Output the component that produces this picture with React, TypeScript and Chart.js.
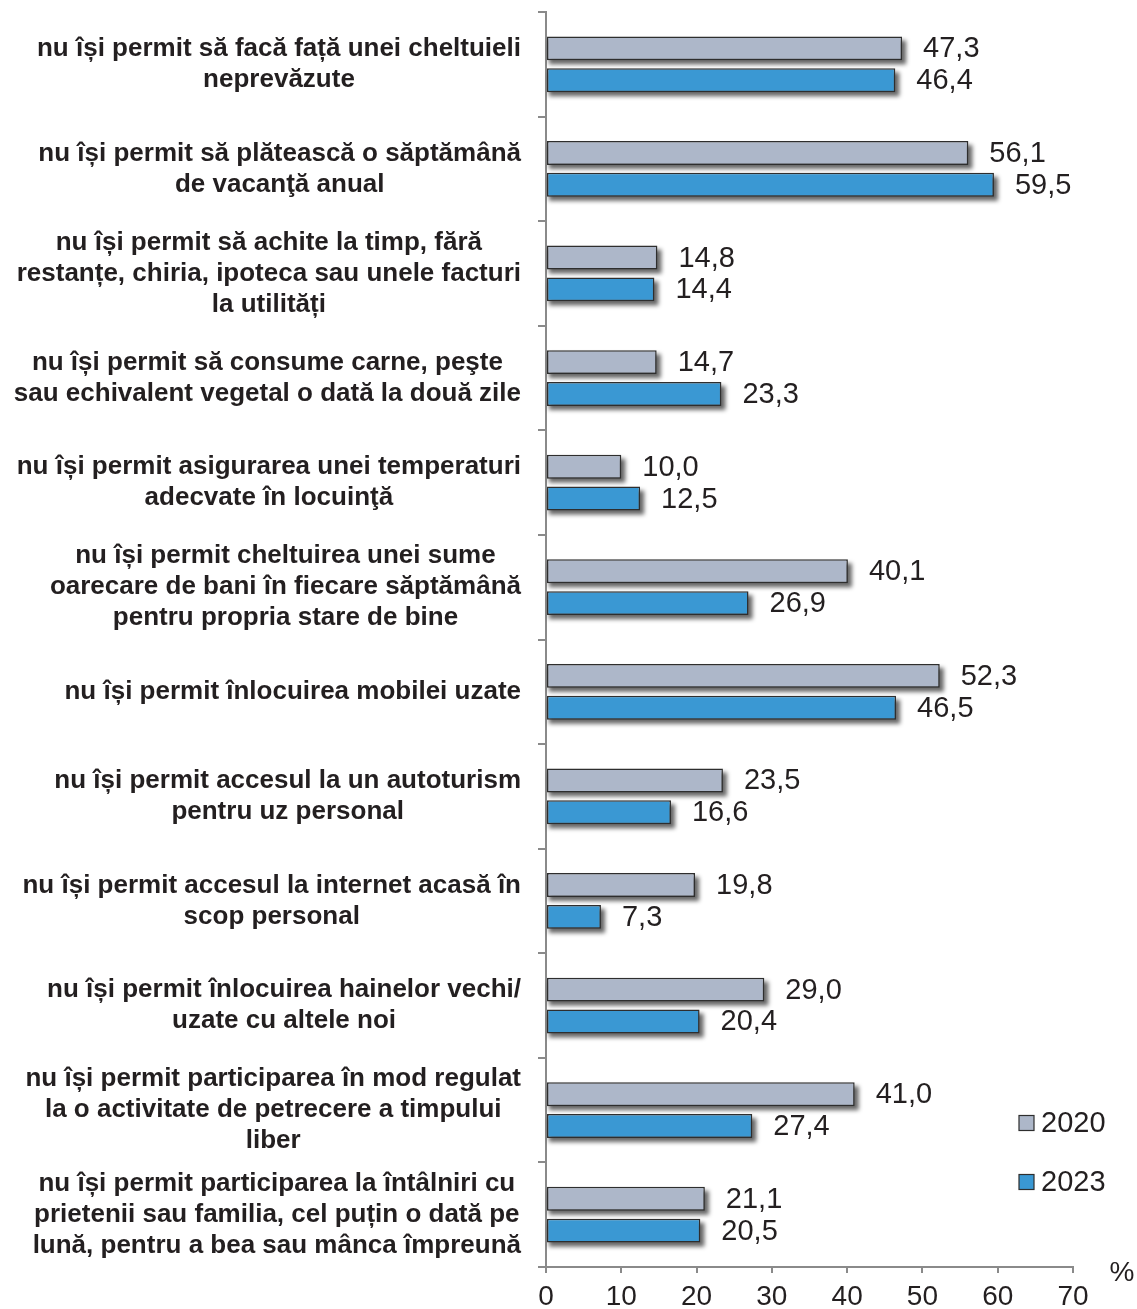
import React, { useEffect, useRef } from "react";
import { Chart, registerables } from "chart.js";

Chart.register(...registerables);

const categories: string[][] = [
  ["nu își permit să facă față unei cheltuieli", "neprevăzute"],
  ["nu își permit să plătească o săptămână", "de vacanţă anual"],
  ["nu își permit să achite la timp, fără", "restanțe, chiria, ipoteca sau unele facturi", "la utilități"],
  ["nu își permit să consume carne, peşte", "sau echivalent vegetal o dată la două zile"],
  ["nu își permit asigurarea unei temperaturi", "adecvate în locuinţă"],
  ["nu își permit cheltuirea unei sume", "oarecare de bani în fiecare săptămână", "pentru propria stare de bine"],
  ["nu își permit înlocuirea mobilei uzate"],
  ["nu își permit accesul la un autoturism", "pentru uz personal"],
  ["nu își permit accesul la internet acasă în", "scop personal"],
  ["nu își permit înlocuirea hainelor vechi/", "uzate cu altele noi"],
  ["nu își permit participarea în mod regulat", "la o activitate de petrecere a timpului", "liber"],
  ["nu își permit participarea la întâlniri cu", "prietenii sau familia, cel puțin o dată pe", "lună, pentru a bea sau mânca împreună"],
];

const values2020: number[] = [47.3, 56.1, 14.8, 14.7, 10.0, 40.1, 52.3, 23.5, 19.8, 29.0, 41.0, 21.1];
const values2023: number[] = [46.4, 59.5, 14.4, 23.3, 12.5, 26.9, 46.5, 16.6, 7.3, 20.4, 27.4, 20.5];
const seriesLabels: string[] = ["2020", "2023"];
const xTicks: number[] = [0, 10, 20, 30, 40, 50, 60, 70];
const unitLabel = "%";

const W = 1137;
const H = 1309;
const TEXT = "#231f20";
const AXIS = "#8a8a8a";
const FONT = "'Liberation Sans', Arial, Helvetica, sans-serif";
const COLORS = ["#adb7c9", "#3a98d3"];
const BORDER = "#2e2e2e";

const fmt = (v: number) => v.toFixed(1).replace(".", ",");

const shadowPlugin = {
  id: "barShadow",
  beforeDatasetsDraw(chart: any) {
    const ctx = chart.ctx;
    ctx.save();
    ctx.filter = "blur(2px)";
    ctx.fillStyle = "rgba(0,0,0,0.6)";
    chart.data.datasets.forEach((_ds: any, di: number) => {
      const meta = chart.getDatasetMeta(di);
      meta.data.forEach((bar: any) => {
        const left = Math.min(bar.base, bar.x);
        const w = Math.abs(bar.x - bar.base);
        const top = bar.y - bar.height / 2;
        ctx.fillRect(left + 2, top + 4, w + 2, bar.height);
      });
    });
    ctx.restore();
  },
};

const decorPlugin = {
  id: "decor",
  afterDraw(chart: any) {
    const ctx = chart.ctx;
    const area = chart.chartArea;
    const yScale = chart.scales.y;

    // category labels: block right-aligned, lines centered in block
    ctx.save();
    ctx.font = `bold 26px ${FONT}`;
    ctx.fillStyle = TEXT;
    ctx.textBaseline = "middle";
    ctx.textAlign = "center";
    const right = area.left - 25;
    const lh = 31;
    categories.forEach((lines, i) => {
      const yc = yScale.getPixelForValue(i);
      const bw = Math.max(...lines.map((l) => ctx.measureText(l).width));
      const cx = right - bw / 2;
      lines.forEach((l, j) => {
        ctx.fillText(l, cx, yc + (j - (lines.length - 1) / 2) * lh);
      });
    });
    ctx.restore();

    // value labels
    ctx.save();
    ctx.font = `29px ${FONT}`;
    ctx.fillStyle = TEXT;
    ctx.textBaseline = "middle";
    ctx.textAlign = "left";
    chart.data.datasets.forEach((ds: any, di: number) => {
      const meta = chart.getDatasetMeta(di);
      meta.data.forEach((bar: any, i: number) => {
        ctx.fillText(fmt(ds.data[i]), bar.x + 21, bar.y + 1);
      });
    });
    ctx.restore();

    // legend
    ctx.save();
    const legendY = [area.bottom - 144, area.bottom - 85];
    const bx = area.right - 54;
    chart.data.datasets.forEach((ds: any, di: number) => {
      const y = legendY[di];
      ctx.fillStyle = ds.backgroundColor;
      ctx.fillRect(bx, y - 7.5, 15, 15);
      ctx.strokeStyle = BORDER;
      ctx.lineWidth = 1.2;
      ctx.strokeRect(bx, y - 7.5, 15, 15);
      ctx.font = `29px ${FONT}`;
      ctx.fillStyle = TEXT;
      ctx.textBaseline = "middle";
      ctx.textAlign = "left";
      ctx.fillText(ds.label, bx + 22, y + 1);
    });
    // unit
    ctx.font = `28px ${FONT}`;
    ctx.textAlign = "center";
    ctx.fillText(unitLabel, area.right + 49, area.bottom + 6);
    ctx.restore();
  },
};

export default function App() {
  const ref = useRef<HTMLCanvasElement | null>(null);

  useEffect(() => {
    if (!ref.current) return;
    const chart = new Chart(ref.current, {
      type: "bar",
      data: {
        labels: categories.map((c) => c.join(" ")),
        datasets: [
          {
            label: seriesLabels[0],
            data: values2020,
            backgroundColor: COLORS[0],
            borderColor: BORDER,
            borderWidth: 1.5,
            borderSkipped: false,
            categoryPercentage: 0.61,
            barPercentage: 0.75,
          },
          {
            label: seriesLabels[1],
            data: values2023,
            backgroundColor: COLORS[1],
            borderColor: BORDER,
            borderWidth: 1.5,
            borderSkipped: false,
            categoryPercentage: 0.61,
            barPercentage: 0.75,
          },
        ],
      },
      options: {
        indexAxis: "y",
        responsive: false,
        animation: false,
        devicePixelRatio: 1,
        layout: { padding: { top: 12, right: 64, bottom: 0, left: 0 } },
        plugins: {
          legend: { display: false },
          tooltip: { enabled: false },
        },
        scales: {
          x: {
            min: 0,
            max: 70,
            afterBuildTicks: (scale: any) => {
              scale.ticks = xTicks.map((v) => ({ value: v }));
            },
            afterFit: (scale: any) => {
              scale.height = 42;
            },
            grid: {
              drawOnChartArea: false,
              drawTicks: true,
              tickLength: 6,
              color: AXIS,
              lineWidth: 2,
            },
            border: { display: true, color: AXIS, width: 2 },
            ticks: {
              color: TEXT,
              font: { family: FONT, size: 28 },
              padding: 7,
              maxRotation: 0,
            },
          },
          y: {
            afterFit: (scale: any) => {
              scale.width = 546;
            },
            grid: {
              drawOnChartArea: false,
              drawTicks: true,
              tickLength: 8,
              offset: true,
              color: AXIS,
              lineWidth: 2,
            },
            border: { display: true, color: AXIS, width: 2 },
            ticks: { display: false },
          },
        },
      },
      plugins: [shadowPlugin, decorPlugin],
    } as any);
    return () => chart.destroy();
  }, []);

  return (
    <div style={{ position: "absolute", left: 0, top: 0, width: W, height: H, background: "#fff" }}>
      <canvas ref={ref} width={W} height={H} style={{ display: "block", width: W, height: H }} />
    </div>
  );
}
